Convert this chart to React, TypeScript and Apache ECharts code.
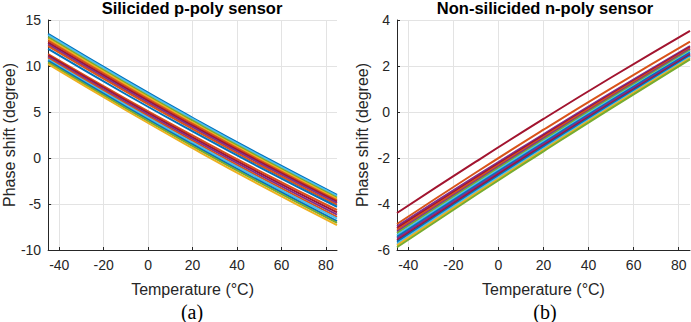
import { useEffect, useRef } from "react";
import * as echarts from "echarts";

// Temperatures (°C) at which each curve was read
const TEMPS = [-45, -10, 20, 50, 85];
const X_TICKS = [-40, -20, 0, 20, 40, 60, 80];

// MATLAB default line colours
const BLUE = "#0072BD";
const ORANGE = "#D95319";
const YELLOW = "#EDB120";
const PURPLE = "#7E2F8E";
const GREEN = "#77AC30";
const LIGHTBLUE = "#4DBEEE";
const DARKRED = "#A2142F";

// (a) Silicided p-poly sensor: phase shift (degree), top to bottom
const leftLines = [
  [13.5, 8.49, 4.37, 0.41, -4.0],
  [13.35, 8.35, 4.24, 0.28, -4.12],
  [13.15, 8.15, 4.05, 0.1, -4.3],
  [12.95, 7.97, 3.87, -0.07, -4.45],
  [12.75, 7.78, 3.7, -0.23, -4.6],
  [12.55, 7.59, 3.52, -0.39, -4.75],
  [12.35, 7.41, 3.35, -0.56, -4.9],
  [12.15, 7.21, 3.15, -0.76, -5.1],
  [11.85, 6.93, 2.9, -0.98, -5.3],
  [11.3, 6.44, 2.45, -1.39, -5.65],
  [11.15, 6.26, 2.25, -1.61, -5.9],
  [11.0, 6.08, 2.05, -1.83, -6.15],
  [10.85, 5.91, 1.85, -2.06, -6.4],
  [10.7, 5.74, 1.67, -2.24, -6.6],
  [10.55, 5.57, 1.47, -2.47, -6.85],
  [10.4, 5.4, 1.3, -2.65, -7.05],
  [10.2, 5.19, 1.07, -2.89, -7.3],
];
const leftColors = [
  BLUE, LIGHTBLUE, GREEN, YELLOW, ORANGE, DARKRED, PURPLE, ORANGE, BLUE,
  ORANGE, DARKRED, PURPLE, ORANGE, LIGHTBLUE, BLUE, GREEN, YELLOW,
];

// (b) Non-silicided n-poly sensor: phase shift (degree), top to bottom
const rightLines = [
  [-4.39, -2.16, -0.3, 1.5, 3.53],
  [-4.87, -2.63, -0.77, 1.03, 3.06],
  [-4.97, -2.79, -0.97, 0.83, 2.87],
  [-5.05, -2.86, -1.03, 0.77, 2.82],
  [-5.12, -2.93, -1.09, 0.72, 2.77],
  [-5.2, -3.0, -1.15, 0.66, 2.73],
  [-5.27, -3.06, -1.21, 0.61, 2.68],
  [-5.35, -3.13, -1.28, 0.55, 2.63],
  [-5.43, -3.2, -1.34, 0.5, 2.58],
  [-5.5, -3.27, -1.4, 0.44, 2.53],
  [-5.58, -3.34, -1.46, 0.38, 2.48],
  [-5.65, -3.41, -1.52, 0.33, 2.44],
  [-5.73, -3.47, -1.59, 0.27, 2.39],
  [-5.8, -3.54, -1.65, 0.22, 2.34],
  [-5.88, -3.61, -1.71, 0.16, 2.29],
];
const rightColors = [
  DARKRED, ORANGE, PURPLE, DARKRED, ORANGE, PURPLE, GREEN, LIGHTBLUE, BLUE,
  PURPLE, DARKRED, BLUE, LIGHTBLUE, YELLOW, GREEN,
];

const FONT = "'Liberation Sans', Arial, Helvetica, sans-serif";
const TXT = "#262626";
const AXIS = "#262626";
const GRID = "#e3e3e3";

function xAxis(gridIndex: number) {
  return {
    type: "value",
    gridIndex,
    min: -45,
    max: 85,
    axisLine: { show: true, onZero: false, lineStyle: { color: AXIS, width: 1 } },
    axisTick: { show: true, inside: true, length: 3, customValues: X_TICKS, lineStyle: { color: AXIS } },
    axisLabel: { customValues: X_TICKS, color: TXT, fontSize: 14, margin: 8, fontFamily: FONT },
    splitLine: { show: true, lineStyle: { color: GRID, width: 1 } },
    name: "Temperature (°C)",
    nameLocation: "middle",
    nameGap: 31,
    nameTextStyle: { color: TXT, fontSize: 16, fontFamily: FONT },
  };
}

function yAxis(gridIndex: number, min: number, max: number, interval: number, nameGap: number) {
  return {
    type: "value",
    gridIndex,
    min,
    max,
    interval,
    axisLine: { show: true, onZero: false, lineStyle: { color: AXIS, width: 1 } },
    axisTick: { show: true, inside: true, length: 3, lineStyle: { color: AXIS } },
    axisLabel: { color: TXT, fontSize: 14, margin: 7, fontFamily: FONT },
    splitLine: { show: true, lineStyle: { color: GRID, width: 1 } },
    name: "Phase shift (degree)",
    nameLocation: "middle",
    nameGap,
    nameTextStyle: { color: TXT, fontSize: 16, fontFamily: FONT },
  };
}

function makeSeries(lines: number[][], colors: string[], idx: number) {
  return lines.map((vals, i) => ({
    type: "line",
    xAxisIndex: idx,
    yAxisIndex: idx,
    data: TEMPS.map((t, j) => [t, vals[j]]),
    smooth: true,
    showSymbol: false,
    symbol: "none",
    lineStyle: { color: colors[i], width: 2 },
    itemStyle: { color: colors[i] },
    z: 2,
  }));
}

export default function App() {
  const ref = useRef<HTMLDivElement>(null);
  useEffect(() => {
    const chart = echarts.init(ref.current!, null, { renderer: "svg" });
    chart.setOption({
      animation: false,
      backgroundColor: "#ffffff",
      grid: [
        { left: 47, right: 354, top: 20, bottom: 72 },
        { left: 397, right: 1, top: 20, bottom: 72 },
      ],
      xAxis: [xAxis(0), xAxis(1)],
      yAxis: [yAxis(0, -10, 15, 5, 29), yAxis(1, -6, 4, 2, 27)],
      series: [...makeSeries(leftLines, leftColors, 0), ...makeSeries(rightLines, rightColors, 1)],
      graphic: [
        {
          type: "text",
          x: 192,
          y: 8,
          style: { text: "Silicided p-poly sensor", fill: "#000", font: `bold 16.5px ${FONT}`, textAlign: "center", textVerticalAlign: "middle" },
        },
        {
          type: "text",
          x: 545,
          y: 8,
          style: { text: "Non-silicided n-poly sensor", fill: "#000", font: `bold 16.5px ${FONT}`, textAlign: "center", textVerticalAlign: "middle" },
        },
        {
          type: "text",
          x: 192,
          y: 312,
          style: { text: "(a)", fill: "#000", font: `20px 'Liberation Serif', 'Times New Roman', serif`, textAlign: "center", textVerticalAlign: "middle" },
        },
        {
          type: "text",
          x: 545,
          y: 312,
          style: { text: "(b)", fill: "#000", font: `20px 'Liberation Serif', 'Times New Roman', serif`, textAlign: "center", textVerticalAlign: "middle" },
        },
      ],
    });
    return () => chart.dispose();
  }, []);
  return <div ref={ref} style={{ position: "absolute", left: 0, top: 0, width: 691, height: 322 }} />;
}
